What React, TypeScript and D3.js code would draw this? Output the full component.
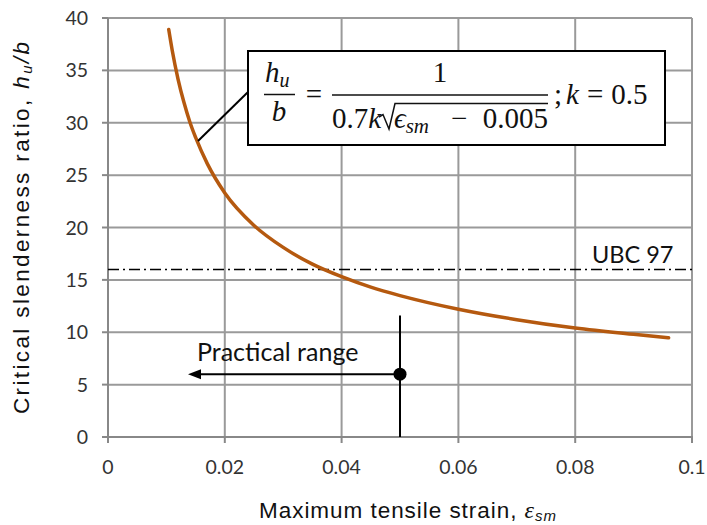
import React from "react";
import * as d3 from "d3";

const strain = [0.0104, 0.011, 0.012, 0.013, 0.014, 0.015, 0.017, 0.02, 0.025, 0.03, 0.035, 0.04, 0.045, 0.05, 0.06, 0.07, 0.08, 0.09, 0.096];
const slenderness = [38.9, 36.9, 34.15, 31.95, 30.1, 28.6, 26.1, 23.3, 20.2, 18.1, 16.5, 15.3, 14.3, 13.5, 12.2, 11.2, 10.4, 9.8, 9.47];
const xTicks = [0, 0.02, 0.04, 0.06, 0.08, 0.1];
const xTickLabels = ["0", "0.02", "0.04", "0.06", "0.08", "0.1"];
const yTicks = [0, 5, 10, 15, 20, 25, 30, 35, 40];
const ubcLimit = [16];
const practicalPoint = [{ x: 0.05, y: 6 }];
const practicalArrowEnd = [0.0137];
const practicalVLine = [11.6, 0];

const W = 707;
const H = 525;
const CURVE = "#B5590F";
const GRID = "#9a9a9a";
const AXIS = "#888888";
const CAL = "Lato, 'Open Sans', sans-serif";
const ARIAL = "'Liberation Sans', Arial, sans-serif";
const MATH = "'Liberation Serif', 'Times New Roman', serif";

export default function App() {
  const x = d3.scaleLinear().domain([0, 0.1]).range([108, 692]);
  const y = d3.scaleLinear().domain([0, 40]).range([437, 18]);
  const line = d3
    .line<number>()
    .x((_, i) => x(strain[i]))
    .y((d) => y(d))
    .curve(d3.curveMonotoneX);

  const p = practicalPoint[0];
  const arrowTipX = x(practicalArrowEnd[0]);
  const arrowY = y(p.y);

  return (
    <svg
      width={W}
      height={H}
      style={{ position: "fixed", left: 0, top: 0, background: "#fff" }}
    >
      <rect x={0} y={0} width={W} height={H} fill="#fff" />
      {/* grid */}
      {yTicks.filter((t) => t > 0).map((t) => (
        <line key={"gy" + t} x1={x(0)} x2={x(0.1)} y1={y(t)} y2={y(t)} stroke={GRID} strokeWidth={2} />
      ))}
      {xTicks.filter((t) => t > 0).map((t) => (
        <line key={"gx" + t} x1={x(t)} x2={x(t)} y1={y(0)} y2={y(40)} stroke={GRID} strokeWidth={2} />
      ))}
      {/* axes */}
      <line x1={x(0)} x2={x(0)} y1={y(0) + 1} y2={y(40)} stroke={AXIS} strokeWidth={2} />
      <line x1={x(0) - 1} x2={x(0.1) + 1} y1={y(0)} y2={y(0)} stroke={AXIS} strokeWidth={2} />
      {yTicks.map((t) => (
        <line key={"ty" + t} x1={x(0) - 6} x2={x(0)} y1={y(t)} y2={y(t)} stroke={AXIS} strokeWidth={2} />
      ))}
      {xTicks.map((t) => (
        <line key={"tx" + t} x1={x(t)} x2={x(t)} y1={y(0)} y2={y(0) + 6} stroke={AXIS} strokeWidth={2} />
      ))}
      {yTicks.map((t) => (
        <text key={"ly" + t} x={88} y={y(t) + 7} textAnchor="end" fontFamily={CAL} fontSize={19.5} fill="#333">
          {t}
        </text>
      ))}
      {xTicks.map((t, i) => (
        <text key={"lx" + t} x={x(t)} y={474} textAnchor="middle" fontFamily={CAL} fontSize={19.5} fill="#333">
          {xTickLabels[i]}
        </text>
      ))}

      {/* UBC 97 */}
      <line
        x1={x(0)}
        x2={x(0.1)}
        y1={y(ubcLimit[0])}
        y2={y(ubcLimit[0])}
        stroke="#000"
        strokeWidth={1.5}
        strokeDasharray="11 4 2 4"
      />
      <text x={592} y={263} fontFamily={CAL} fontSize={23.5} fill="#111">UBC 97</text>

      {/* practical range */}
      <line x1={x(p.x)} x2={x(p.x)} y1={y(practicalVLine[0])} y2={y(practicalVLine[1])} stroke="#000" strokeWidth={2} />
      <line x1={x(p.x)} x2={arrowTipX + 10} y1={arrowY} y2={arrowY} stroke="#000" strokeWidth={2} />
      <path
        d={`M${arrowTipX},${arrowY} L${arrowTipX + 13},${arrowY - 5} L${arrowTipX + 13},${arrowY + 5} Z`}
        fill="#000"
      />
      <circle cx={x(p.x)} cy={arrowY} r={6.5} fill="#000" />
      <text x={197} y={361} fontFamily={CAL} fontSize={25} fill="#111">Practical range</text>

      {/* curve */}
      <path d={line(slenderness) || ""} fill="none" stroke={CURVE} strokeWidth={3.5} strokeLinecap="round" />

      {/* formula callout */}
      <line x1={198} y1={141} x2={248} y2={92} stroke="#000" strokeWidth={2} />
      <rect x={248} y={51} width={417} height={94} fill="#fff" stroke="#000" strokeWidth={2} />
      <g fontFamily={MATH} fill="#111">
        <text x={265} y={82} fontSize={29} fontStyle="italic">
          h<tspan fontSize={20} dy={5}>u</tspan>
        </text>
        <line x1={264} x2={295} y1={94.5} y2={94.5} stroke="#111" strokeWidth={1.5} />
        <text x={279} y={121} fontSize={29} fontStyle="italic" textAnchor="middle">b</text>
        <text x={314} y={104} fontSize={29} textAnchor="middle">=</text>
        <line x1={332} x2={548} y1={95} y2={95} stroke="#111" strokeWidth={1.5} />
        <text x={440} y={82} fontSize={29} textAnchor="middle">1</text>
        <text x={332} y={128} fontSize={29}>
          0.7<tspan fontStyle="italic">k</tspan>
        </text>
        <path d="M379,117 L383,114.5 L389,129 L395,103.5 L548,103.5" fill="none" stroke="#111" strokeWidth={1.5} />
        <text x={394} y={128} fontSize={29} fontStyle="italic">
          ϵ<tspan fontSize={21} dy={5}>sm</tspan>
        </text>
        <text x={451} y={128} fontSize={29}>−</text>
        <text x={548} y={128} fontSize={29} textAnchor="end">0.005</text>
        <text x={554} y={104} fontSize={29}>
          ;<tspan fontStyle="italic" dx={4}>k</tspan>
          <tspan dx={8}>=</tspan>
          <tspan dx={8}>0.5</tspan>
        </text>
      </g>

      {/* axis titles */}
      <text x={259} y={518} fontFamily={ARIAL} fontSize={22.5} fill="#111" textLength={297} lengthAdjust="spacing">
        Maximum tensile strain, <tspan fontFamily={MATH} fontStyle="italic" fontSize={24}>ε</tspan>
        <tspan fontStyle="italic" fontSize={15} dy={3}>sm</tspan>
      </text>
      <text
        transform={`translate(29, 228) rotate(-90)`}
        textAnchor="middle"
        fontFamily={ARIAL}
        fontSize={22.5}
        fill="#111"
        textLength={372}
        lengthAdjust="spacing"
      >
        Critical slenderness ratio, <tspan fontStyle="italic">h</tspan>
        <tspan fontStyle="italic" fontSize={15} dy={3}>u</tspan>
        <tspan fontStyle="italic" dy={-3}>/b</tspan>
      </text>
    </svg>
  );
}
